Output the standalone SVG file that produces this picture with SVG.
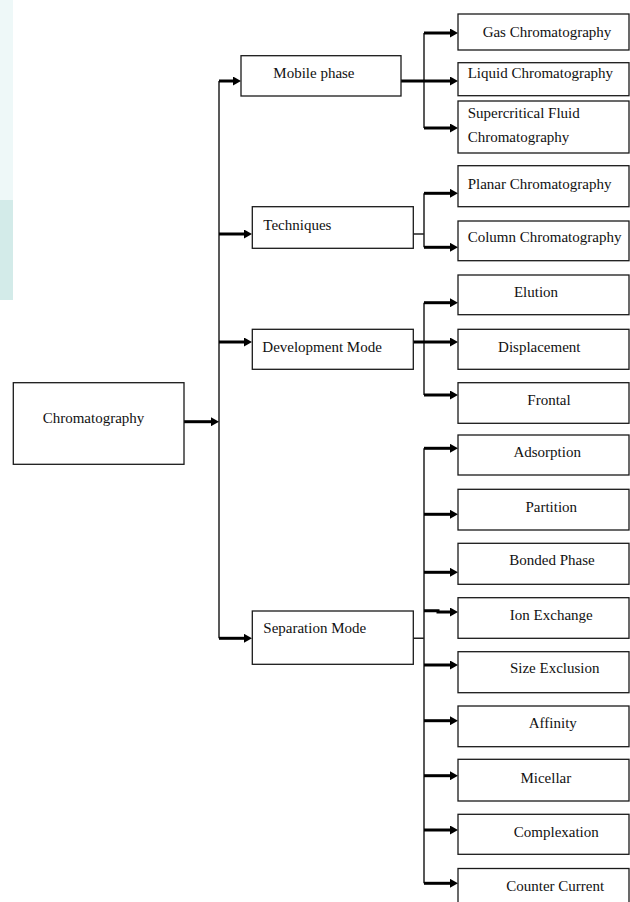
<svg xmlns="http://www.w3.org/2000/svg" width="630" height="902" viewBox="0 0 630 902">
<style>
.box{fill:#fff;stroke:#1a1a1a;stroke-width:1.3}
.t{font-family:"Liberation Serif","Times New Roman",serif;font-size:15px;fill:#111}
.c{text-anchor:middle}
.thin{fill:none;stroke:#222;stroke-width:1.5}
.arr{fill:none;stroke:#000;stroke-width:3;marker-end:url(#ah)}
</style>
<defs>
<marker id="ah" markerUnits="userSpaceOnUse" markerWidth="8" markerHeight="9" refX="2" refY="4.5" orient="auto">
<path d="M0,0 L8,4.5 L0,9 z" fill="#000"/>
</marker>
</defs>
<rect width="630" height="902" fill="#fff"/>
<g id="watermark">
<rect x="0" y="0" width="13" height="300" fill="#eef8f8"/>
<rect x="0" y="200" width="13" height="100" fill="#d3ebe9"/>
</g>
<g id="connectors">
<path class="thin" d="M219,81 V638.3"/>
<path class="arr" d="M184,421.7 H213"/>
<path class="arr" d="M219,81 H235"/>
<path class="arr" d="M219,234 H246"/>
<path class="arr" d="M219,342 H246"/>
<path class="arr" d="M219,638.3 H246"/>
<path class="thin" d="M424,33 V128"/>
<path class="arr" d="M424,33 H452"/>
<path class="arr" d="M401,81 H452"/>
<path class="arr" d="M424,128 H452"/>
<path class="thin" d="M413,234 H424 M424,193.3 V247.3"/>
<path class="arr" d="M424,193.3 H452"/>
<path class="arr" d="M424,247.3 H452"/>
<path class="thin" d="M424,302.7 V395"/>
<path class="arr" d="M424,302.7 H452"/>
<path class="arr" d="M413,342 H452"/>
<path class="arr" d="M424,395 H452"/>
<path class="thin" d="M413,638.3 H424 M424,448.3 V883.3"/>
<path class="arr" d="M424,448.3 H452"/>
<path class="arr" d="M424,514.3 H452"/>
<path class="arr" d="M424,572.3 H452"/>
<path class="arr" d="M424,610.7 H438 V612 H452"/>
<path class="arr" d="M424,665 H452"/>
<path class="arr" d="M424,720.7 H452"/>
<path class="arr" d="M424,775.7 H452"/>
<path class="arr" d="M424,830 H452"/>
<path class="arr" d="M424,883.3 H452"/>
</g>
<g id="chromatography"><rect class="box" x="13.3" y="382.7" width="170.7" height="81.6"/><text class="t" x="42.7" y="423.3">Chromatography</text></g>
<g id="mobile-phase"><rect class="box" x="241" y="55.7" width="160" height="40.3"/><text class="t" x="273.3" y="78.3">Mobile phase</text></g>
<g id="techniques"><rect class="box" x="252.3" y="206.7" width="161" height="41.6"/><text class="t" x="263.3" y="230">Techniques</text></g>
<g id="development-mode"><rect class="box" x="252.3" y="329.3" width="161" height="40"/><text class="t" x="262.3" y="351.7">Development Mode</text></g>
<g id="separation-mode"><rect class="box" x="252.3" y="611" width="161" height="53.3"/><text class="t" x="263.3" y="633.3">Separation Mode</text></g>
<g id="gas"><rect class="box" x="458" y="14" width="171" height="36"/><text class="t c" x="547" y="37.3">Gas Chromatography</text></g>
<g id="liquid"><rect class="box" x="458" y="62.7" width="171" height="33"/><text class="t" x="467.7" y="78.3">Liquid Chromatography</text></g>
<g id="supercritical"><rect class="box" x="458" y="101" width="171" height="52"/><text class="t" x="467.7" y="118.3">Supercritical Fluid</text><text class="t" x="467.7" y="141.7">Chromatography</text></g>
<g id="planar"><rect class="box" x="458" y="165.7" width="171" height="41"/><text class="t" x="467.7" y="189.3">Planar Chromatography</text></g>
<g id="column"><rect class="box" x="458" y="221" width="171" height="39.7"/><text class="t" x="467.7" y="241.7">Column Chromatography</text></g>
<g id="elution"><rect class="box" x="458" y="275" width="171" height="39.7"/><text class="t c" x="536" y="296.7">Elution</text></g>
<g id="displacement"><rect class="box" x="458" y="329.3" width="171" height="40"/><text class="t c" x="539.3" y="351.7">Displacement</text></g>
<g id="frontal"><rect class="box" x="458" y="382.7" width="171" height="40.6"/><text class="t c" x="549" y="405">Frontal</text></g>
<g id="adsorption"><rect class="box" x="458" y="435" width="171" height="40"/><text class="t c" x="547.2" y="456.7">Adsorption</text></g>
<g id="partition"><rect class="box" x="458" y="489.3" width="171" height="40.7"/><text class="t c" x="551.3" y="511.7">Partition</text></g>
<g id="bonded-phase"><rect class="box" x="458" y="543.3" width="171" height="41"/><text class="t c" x="552" y="565">Bonded Phase</text></g>
<g id="ion-exchange"><rect class="box" x="458" y="597.7" width="171" height="40.6"/><text class="t c" x="551.3" y="620">Ion Exchange</text></g>
<g id="size-exclusion"><rect class="box" x="458" y="651.7" width="171" height="41"/><text class="t c" x="554.7" y="673.3">Size Exclusion</text></g>
<g id="affinity"><rect class="box" x="458" y="706" width="171" height="40.7"/><text class="t c" x="552.8" y="728.3">Affinity</text></g>
<g id="micellar"><rect class="box" x="458" y="759.3" width="171" height="41.7"/><text class="t c" x="545.8" y="782.7">Micellar</text></g>
<g id="complexation"><rect class="box" x="458" y="814.3" width="171" height="40"/><text class="t c" x="556.3" y="836.7">Complexation</text></g>
<g id="counter-current"><rect class="box" x="458" y="868.5" width="171" height="45"/><text class="t c" x="555.2" y="890.7">Counter Current</text></g>
</svg>
